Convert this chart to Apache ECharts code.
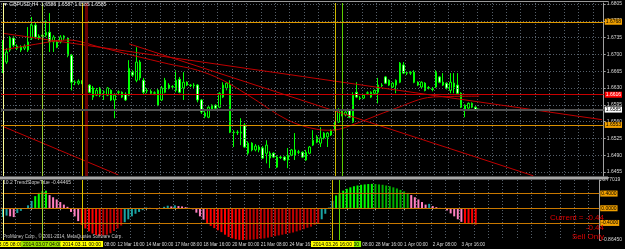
<!DOCTYPE html>
<html><head><meta charset="utf-8">
<script src="https://cdn.jsdelivr.net/npm/echarts@6/dist/echarts.min.js"></script>
<style>html,body{margin:0;padding:0;background:#000;}#c{width:625px;height:249px;}</style>
</head><body><div id="c"></div>
<script>
// ---------- data ----------
const symbolName = 'GBPUSD,H4';
const firstBarTime = Date.UTC(2014, 2, 5, 8, 0);   // first H4 bar
const slotCount = 167;                               // bars + empty shift area
// [open, close, low, high]
const candles = [
[1.6671,1.6698,1.6661,1.6730],[1.6684,1.6705,1.6680,1.6713],[1.6709,1.6734,1.6705,1.6738],[1.6734,1.6719,1.6715,1.6738],
[1.6717,1.6713,1.6709,1.6721],[1.6715,1.6709,1.6705,1.6719],[1.6713,1.6717,1.6709,1.6721],[1.6709,1.6726,1.6705,1.6757],
[1.6734,1.6761,1.6730,1.6778],[1.6761,1.6736,1.6732,1.6767],[1.6738,1.6734,1.6730,1.6742],[1.6740,1.6738,1.6734,1.6744],
[1.6740,1.6746,1.6736,1.6771],[1.6746,1.6726,1.6705,1.6786],[1.6726,1.6736,1.6705,1.6740],[1.6726,1.6715,1.6713,1.6730],
[1.6726,1.6736,1.6723,1.6740],[1.6738,1.6734,1.6730,1.6740],[1.6734,1.6698,1.6694,1.6736],[1.6698,1.6642,1.6625,1.6701],
[1.6642,1.6641,1.6636,1.6646],[1.6640,1.6644,1.6636,1.6648],[1.6644,1.6640,1.6638,1.6646],[1.6636,1.6637,1.6621,1.6651],
[1.6636,1.6621,1.6619,1.6638],[1.6630,1.6611,1.6605,1.6634],[1.6615,1.6625,1.6613,1.6630],[1.6630,1.6615,1.6611,1.6632],
[1.6621,1.6622,1.6605,1.6625],[1.6615,1.6630,1.6613,1.6632],[1.6625,1.6605,1.6603,1.6627],[1.6605,1.6615,1.6567,1.6619],
[1.6621,1.6622,1.6615,1.6625],[1.6621,1.6611,1.6609,1.6623],[1.6617,1.6605,1.6603,1.6621],[1.6615,1.6671,1.6613,1.6688],
[1.6663,1.6657,1.6653,1.6667],[1.6646,1.6684,1.6642,1.6715],[1.6684,1.6651,1.6646,1.6688],[1.6646,1.6621,1.6617,1.6651],
[1.6625,1.6624,1.6619,1.6630],[1.6623,1.6619,1.6617,1.6627],[1.6619,1.6620,1.6615,1.6623],[1.6625,1.6594,1.6592,1.6630],
[1.6605,1.6630,1.6603,1.6634],[1.6621,1.6646,1.6619,1.6651],[1.6636,1.6630,1.6627,1.6640],[1.6632,1.6633,1.6627,1.6636],
[1.6625,1.6646,1.6621,1.6667],[1.6648,1.6621,1.6619,1.6653],[1.6630,1.6642,1.6605,1.6663],[1.6642,1.6636,1.6634,1.6644],
[1.6636,1.6635,1.6632,1.6638],[1.6635,1.6636,1.6630,1.6640],[1.6636,1.6605,1.6600,1.6638],[1.6605,1.6580,1.6576,1.6607],
[1.6571,1.6578,1.6567,1.6582],[1.6569,1.6590,1.6567,1.6592],[1.6584,1.6594,1.6582,1.6596],[1.6594,1.6588,1.6586,1.6596],
[1.6590,1.6619,1.6588,1.6621],[1.6611,1.6636,1.6609,1.6642],[1.6630,1.6640,1.6625,1.6642],[1.6636,1.6538,1.6536,1.6646],
[1.6538,1.6537,1.6507,1.6542],[1.6537,1.6538,1.6532,1.6542],[1.6538,1.6536,1.6511,1.6567],[1.6553,1.6507,1.6505,1.6557],
[1.6494,1.6515,1.6490,1.6519],[1.6515,1.6501,1.6498,1.6517],[1.6501,1.6509,1.6498,1.6513],[1.6501,1.6507,1.6496,1.6511],
[1.6505,1.6484,1.6482,1.6509],[1.6494,1.6511,1.6473,1.6521],[1.6484,1.6494,1.6463,1.6498],[1.6494,1.6486,1.6484,1.6496],
[1.6465,1.6486,1.6463,1.6490],[1.6486,1.6485,1.6482,1.6490],[1.6486,1.6480,1.6478,1.6488],[1.6480,1.6490,1.6463,1.6505],
[1.6490,1.6501,1.6488,1.6503],[1.6490,1.6501,1.6480,1.6536],[1.6496,1.6497,1.6492,1.6501],[1.6496,1.6486,1.6484,1.6498],
[1.6480,1.6496,1.6478,1.6501],[1.6494,1.6507,1.6492,1.6509],[1.6511,1.6521,1.6509,1.6542],[1.6517,1.6528,1.6515,1.6532],
[1.6515,1.6526,1.6507,1.6548],[1.6526,1.6536,1.6523,1.6538],[1.6528,1.6536,1.6507,1.6538],[1.6532,1.6542,1.6530,1.6544],
[1.6542,1.6559,1.6540,1.6561],[1.6559,1.6584,1.6557,1.6588],[1.6580,1.6574,1.6571,1.6584],[1.6574,1.6580,1.6571,1.6584],
[1.6584,1.6569,1.6567,1.6586],[1.6559,1.6615,1.6557,1.6621],[1.6621,1.6611,1.6609,1.6642],[1.6609,1.6608,1.6605,1.6613],
[1.6609,1.6615,1.6607,1.6617],[1.6619,1.6620,1.6615,1.6623],[1.6611,1.6621,1.6609,1.6623],[1.6619,1.6625,1.6617,1.6627],
[1.6621,1.6636,1.6598,1.6651],[1.6636,1.6635,1.6632,1.6640],[1.6653,1.6640,1.6638,1.6655],[1.6646,1.6636,1.6634,1.6648],
[1.6632,1.6640,1.6630,1.6642],[1.6636,1.6646,1.6619,1.6648],[1.6642,1.6682,1.6640,1.6684],[1.6678,1.6661,1.6659,1.6684],
[1.6661,1.6662,1.6657,1.6665],[1.6662,1.6661,1.6657,1.6665],[1.6663,1.6642,1.6640,1.6667],[1.6642,1.6636,1.6634,1.6644],
[1.6632,1.6642,1.6630,1.6644],[1.6640,1.6625,1.6623,1.6642],[1.6630,1.6631,1.6627,1.6634],[1.6628,1.6627,1.6623,1.6632],
[1.6632,1.6663,1.6630,1.6667],[1.6653,1.6642,1.6640,1.6655],[1.6642,1.6636,1.6634,1.6661],[1.6640,1.6630,1.6627,1.6642],
[1.6625,1.6642,1.6619,1.6661],[1.6640,1.6632,1.6619,1.6661],[1.6636,1.6619,1.6617,1.6661],[1.6619,1.6590,1.6588,1.6621],
[1.6584,1.6594,1.6569,1.6596],[1.6588,1.6598,1.6586,1.6600],[1.6590,1.6598,1.6588,1.6600],[1.6590,1.6584,1.6582,1.6592],
[1.6586,1.6585,1.6585,1.6587]
];
// TrendSlope indicator histogram
const slope = [
-0.24,-0.2,-0.22,-0.24,-0.13,-0.07,-0.02,
0.08,0.2,0.33,
0.42,0.46,0.48,
0.36,0.3,0.24,0.17,0.1,0.04,
-0.1,-0.22,-0.35,
-0.45,-0.55,-0.63,-0.69,-0.73,-0.75,-0.74,-0.72,-0.68,-0.62,-0.55,-0.47,
-0.38,-0.3,-0.22,-0.15,-0.1,-0.05,
0.02,0.01,-0.01,-0.03,-0.02,
0.04,0.07,0.05,0.08,
0.06,0.05,0.03,0.01,
-0.03,
-0.12,-0.22,-0.31,
-0.42,-0.48,-0.54,-0.6,-0.65,-0.72,-0.78,-0.82,-0.845,-0.86,-0.8645,
-0.86,-0.855,-0.85,-0.84,-0.83,-0.82,-0.8,-0.78,-0.76,-0.74,-0.72,-0.7,-0.68,-0.66,-0.63,-0.6,-0.57,-0.53,-0.5,-0.45,-0.41,
-0.3,-0.15,0.02,0.2,
0.35,0.42,0.48,0.53,0.57,0.6,0.62,0.64,0.65,0.66,0.665,0.66,0.65,0.64,0.62,0.6,0.57,0.54,0.5,0.46,0.42,
0.36,0.3,0.24,0.17,0.1,
0.12,
0.06,0.03,0.01,
-0.02,-0.06,
-0.14,-0.22,-0.3,-0.37,
-0.41,-0.42,-0.435,-0.44465
];
const priceTicks = [1.6455,1.6490,1.6525,1.6560,1.6595,1.6630,1.6665,1.6700,1.6735,1.6770,1.6805];
const priceMin = 1.64466, priceMax = 1.68071;
const slopeMin = -0.8645, slopeMax = 0.77019;
const slopeLevels = [0.4, 0, -0.4];
const upperLevel = 1.6768, redLevel = 1.6616, lowerLevel = 1.6553;
// trend lines: [[barIndex, price], [barIndex, price]]
const trendLines = [
  [[0, 1.6744], [166, 1.6564]],
  [[35, 1.6722], [147, 1.6447]],
  [[0, 1.6550], [32, 1.6449]]
];
// curved red line: [barIndex, price]
const curvePoints = [[0,1.6709],[9,1.6721],[18,1.6730],[27,1.6715],[36,1.6698],[46,1.6680],[54,1.6667],[61,1.6646],
  [68,1.6615],[79,1.6563],[87,1.6544],[91,1.6542],[95,1.6548],[109,1.6588],[119,1.6611],[132,1.6613]];
// vertical line bars
const markerBars = [0, 11, 22, 94, 92];
const redMarkerBar = 23;

// ---------- build ----------
const MONTHS=['Jan','Feb','Mar','Apr','May','Jun','Jul','Aug','Sep','Oct','Nov','Dec'];
const pad = n => String(n).padStart(2,'0');
const categories = [];
for (let t = firstBarTime; categories.length < slotCount; t += 4*3600*1000) {
  const d = new Date(t); const wd = d.getUTCDay();
  if (wd === 0 || wd === 6) continue;
  categories.push(d.getUTCFullYear()+'.'+pad(d.getUTCMonth()+1)+'.'+pad(d.getUTCDate())+' '+pad(d.getUTCHours())+':'+pad(d.getUTCMinutes()));
}
function shortLabel(s){ const p=s.split(' '); const q=p[0].split('.'); return (+q[2])+' '+MONTHS[+q[1]-1]+' '+p[1]; }
const lastBar = candles.length - 1;
const last = candles[lastBar];
const lastSlope = slope[slope.length-1];
const FONT = 'Liberation Sans';

const markerStyle = [
  {line:'#ffff99', box:'#ffff00'},
  {line:'#9acd32', box:'#9be000'},
  {line:'#d8c400', box:'#ffff00'},
  {line:'#5ecf00', box:'#88f000'},
  {line:'#cdb800', box:'#ffff00'}
];
function slopeColor(i){
  const v = slope[i], p = i>0 ? slope[i-1] : v; const up = v >= p;
  if (v > 0) return up ? (v >= 0.3 ? '#00ff00' : '#1aa3a3') : (v >= 0.4 ? '#00b000' : '#ff80c0');
  return up ? (v <= -0.4 ? '#c00000' : '#1aa3a3') : (v <= -0.4 ? '#ff0000' : '#ff80c0');
}
const gridDot = {color:'#56606a', type:[1,2], width:1};
function tag(bg, fg, text){ return {show:true, position:'end', distance:1, formatter:text, backgroundColor:bg, color:fg, fontSize:5, fontFamily:FONT, padding:[1,1,0,1]}; }

const option = {
  backgroundColor:'#000', animation:false,
  textStyle:{fontFamily:FONT},
  grid:[{left:1,right:18,top:3,height:173},{left:1,right:18,top:180,height:60}],
  xAxis:[
    {type:'category', gridIndex:0, data:categories, axisLine:{show:false}, axisTick:{show:false}, axisLabel:{show:false},
     splitLine:{show:true, interval:3, lineStyle:gridDot}},
    {type:'category', gridIndex:1, data:categories, axisLine:{show:true, lineStyle:{color:'#a0a0a0'}},
     axisTick:{show:true, alignWithLabel:true, length:2, interval:(i)=>i%8===0 && i<=128, lineStyle:{color:'#a0a0a0'}},
     axisLabel:{show:true, interval:(i)=>i%8===0 && i<=128, align:'left', fontSize:4.6, color:'#d8d8d8', margin:2, formatter:(v)=>shortLabel(v)},
     splitLine:{show:true, interval:3, lineStyle:gridDot}}
  ],
  yAxis:[
    {type:'value', gridIndex:0, position:'right', min:priceMin, max:priceMax,
     axisLine:{show:true, lineStyle:{color:'#a0a0a0'}}, axisTick:{show:true, length:2, customValues:priceTicks},
     axisLabel:{customValues:priceTicks, formatter:(v)=>v.toFixed(4), fontSize:5, color:'#d8d8d8', margin:3}, splitLine:{show:false}},
    {type:'value', gridIndex:1, position:'right', min:slopeMin, max:slopeMax,
     axisLine:{show:true, lineStyle:{color:'#a0a0a0'}}, axisTick:{show:true, length:2, customValues:[slopeMax, slopeMin]},
     axisLabel:{customValues:[slopeMax, slopeMin], formatter:(v)=>v.toFixed(5), fontSize:5, color:'#d8d8d8', margin:3}, splitLine:{show:false}}
  ],
  series:[
    {name:'grid', type:'line', xAxisIndex:0, yAxisIndex:0, data:[], z:1, silent:true,
     markLine:{silent:true, precision:6, symbol:['none','none'], label:{show:false}, lineStyle:gridDot,
       data: priceTicks.map(v=>({yAxis:v}))}},
    {name:'price', type:'candlestick', xAxisIndex:0, yAxisIndex:0, data:candles, z:3, barWidth:2,
     itemStyle:{color:'#000000', color0:'#ffffff', borderColor:'#00ff00', borderColor0:'#00ff00', borderWidth:1}},
    {name:'curve', type:'line', xAxisIndex:0, yAxisIndex:0, data:curvePoints, smooth:0.35, symbol:'none', z:4,
     lineStyle:{color:'#c00000', width:1}},
    {name:'objects', type:'line', xAxisIndex:0, yAxisIndex:0, data:[], z:5, silent:true,
     markLine:{silent:true, precision:6, symbol:['none','none'], label:{show:false},
       data:[
         ...trendLines.map(l=>[{coord:l[0], lineStyle:{color:'#c00000', width:1, type:'solid'}},{coord:l[1]}]),
         ...markerBars.map((b,k)=>({xAxis:b, lineStyle:{color:markerStyle[k].line, width:1, type:'solid'}})),
         {xAxis:redMarkerBar, lineStyle:{color:'#6a0000', width:3, type:'solid'}},
         {yAxis:upperLevel, lineStyle:{color:'#e09a00', width:1, type:'solid'}, label:tag('#f0a000','#000',upperLevel.toFixed(4))},
         {yAxis:redLevel, lineStyle:{color:'#c80000', width:1, type:'solid'}, label:tag('#ff0000','#fff',redLevel.toFixed(4))},
         {yAxis:last[1], lineStyle:{color:'#505050', width:2, type:'solid'}, label:tag('#ffffff','#000',last[1].toFixed(4))},
         {yAxis:lowerLevel, lineStyle:{color:'#d99000', width:1, type:'solid'}, label:tag('#f0a000','#000',lowerLevel.toFixed(4))}
       ]}},
    {name:'TrendSlope', type:'bar', xAxisIndex:1, yAxisIndex:1, data:slope, barWidth:2, z:2,
     itemStyle:{color:(p)=>slopeColor(p.dataIndex)},
     markLine:{silent:true, precision:6, symbol:['none','none'],
       data: slopeLevels.map(v=>({yAxis:v, lineStyle:{color:'#c87800', width:1, type:'solid'}, label:tag('#f0a000','#000',v.toFixed(4))}))}},
    {name:'vlines2', type:'line', xAxisIndex:1, yAxisIndex:1, data:[], z:6, silent:true,
     markLine:{silent:true, symbol:['none','none'],
       data: markerBars.map((b,k)=>({xAxis:b, lineStyle:{color:markerStyle[k].line, width:1, type:'solid'},
         label:{show:true, position:'start', distance:1, formatter:categories[b], backgroundColor:markerStyle[k].box,
           color:'#000', fontSize:5, fontFamily:FONT, padding:[1,2,0,2]}}))}}
  ],
  graphic:[
    {type:'rect', shape:{x:0,y:176.5,width:608,height:3}, style:{fill:'#a8a8a8'}, z:50},
    {type:'line', shape:{x1:0,y1:1.5,x2:608,y2:1.5}, style:{stroke:'#9a9a9a', lineWidth:1}, z:50},
    {type:'text', x:3, y:5, z:60, style:{text:'▼ '+symbolName+'  '+last[0].toFixed(4)+' '+last[3].toFixed(4)+' '+last[2].toFixed(4)+' '+last[1].toFixed(4),
      fill:'#e8e8e8', font:'5px "'+FONT+'"', verticalAlign:'middle'}},
    {type:'text', x:3, y:183, z:60, style:{text:'10.2 TrendSlopeTrue '+lastSlope.toFixed(5), fill:'#d0d0d0', font:'5px "'+FONT+'"', verticalAlign:'middle'}},
    {type:'text', x:3, y:236.5, z:60, style:{text:'ProMoney Corp., © 2001-2014, MetaQuotes Software Corp.', fill:'#c8c8c8', font:'4.5px "'+FONT+'"', verticalAlign:'middle'}},
    {type:'text', x:604, y:218, z:60, style:{text:'Current = '+lastSlope.toFixed(2), fill:'#e00000', font:'8px "'+FONT+'"', align:'right', verticalAlign:'middle'}},
    {type:'text', x:604, y:227.5, z:60, style:{text:lastSlope.toFixed(2), fill:'#e00000', font:'8px "'+FONT+'"', align:'right', verticalAlign:'middle'}},
    {type:'text', x:604, y:236.5, z:60, style:{text:'Sell Only', fill:'#e00000', font:'8px "'+FONT+'"', align:'right', verticalAlign:'middle'}}
  ]
};
const chart = echarts.init(document.getElementById('c'), null, {renderer:'canvas'});
chart.setOption(option);
</script>
</body></html>
